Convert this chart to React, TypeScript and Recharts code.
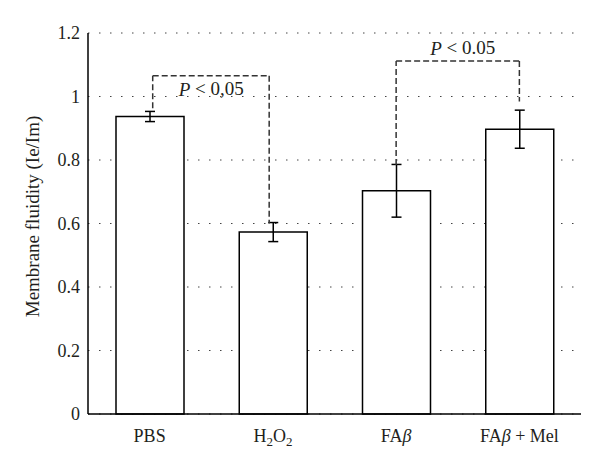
import React from 'react';
import { BarChart, Bar, XAxis, YAxis, CartesianGrid, ErrorBar, ReferenceLine, ReferenceDot } from 'recharts';

const categories = ['PBS', 'H2O2', 'FAβ', 'FAβ + Mel'];
const fluidity = [0.937, 0.573, 0.703, 0.897];
const errors = [0.016, 0.03, 0.083, 0.06];
const yTicks = [0, 0.2, 0.4, 0.6, 0.8, 1, 1.2];

// significance brackets, x in category-index units (band i spans i..i+1)
const brackets = [
  { x1: 0.525, x2: 1.47, top: 1.065, foot1: 0.963, foot2: 0.6, text: '< 0,05', lx: 1.0, ly: 1.024 },
  { x1: 2.5, x2: 3.5, top: 1.112, foot1: 0.784, foot2: 0.984, text: '< 0.05', lx: 3.04, ly: 1.153 },
];

const data = categories.map((name, i) => ({ name, pos: i + 0.5, value: fluidity[i], err: errors[i] }));

const FONT = '"Liberation Serif", "DejaVu Serif", serif';
const INK = '#231f20';
const dash = { stroke: '#333', strokeWidth: 1.5, strokeDasharray: '6 3' };

function CategoryTick({ x, y, payload }: any) {
  const v = payload.value as string;
  let content: React.ReactNode = v;
  if (v === 'H2O2') {
    content = (
      <>
        H<tspan dy={4} fontSize={13}>2</tspan>
        <tspan dy={-4}>O</tspan>
        <tspan dy={4} fontSize={13}>2</tspan>
      </>
    );
  } else if (v.startsWith('FAβ')) {
    content = (
      <>
        FA<tspan fontStyle="italic">β</tspan>
        {v.slice(3)}
      </>
    );
  }
  return (
    <text x={x} y={y + 20} textAnchor="middle" fontFamily={FONT} fontSize={18} fill={INK}>
      {content}
    </text>
  );
}

function PLabel(text: string) {
  return (p: any) => (
    <text x={p.cx} y={p.cy} textAnchor="middle" dominantBaseline="central" fontFamily={FONT} fontSize={19} fill={INK}>
      <tspan fontStyle="italic">P</tspan> {text}
    </text>
  );
}

export default function App() {
  return (
    <div style={{ position: 'absolute', left: 0, top: 0, background: '#fff' }}>
      <BarChart
        width={600}
        height={468}
        data={data}
        margin={{ top: 33, right: 19, bottom: 14, left: 0 }}
        barSize={68}
      >
        <CartesianGrid vertical={false} stroke="#444" strokeDasharray="1.5 9.5" />
        <XAxis
          dataKey="name"
          tick={<CategoryTick />}
          tickLine={false}
          axisLine={{ stroke: '#000', strokeWidth: 1.5 }}
          height={40}
          interval={0}
        />
        <XAxis xAxisId="num" dataKey="pos" type="number" domain={[0, 4]} allowDataOverflow hide />
        <YAxis
          domain={[0, 1.2]}
          ticks={yTicks}
          width={88}
          tickLine={false}
          tickSize={0}
          axisLine={{ stroke: '#000', strokeWidth: 1.5 }}
          tickMargin={8}
          tick={{ fontFamily: FONT, fontSize: 18, fill: INK }}
          label={({ viewBox }: any) => (
            <text
              transform={`translate(${viewBox.x + 32}, ${viewBox.y + viewBox.height / 2 - 7}) rotate(-90)`}
              textAnchor="middle"
              dominantBaseline="central"
              fontFamily={FONT}
              fontSize={19}
              fill={INK}
            >
              Membrane fluidity (Ie/Im)
            </text>
          )}
        />
        <Bar dataKey="value" fill="#fff" stroke="#000" strokeWidth={1.5} isAnimationActive={false}>
          <ErrorBar dataKey="err" width={5} stroke="#000" strokeWidth={1.5} />
        </Bar>
        {brackets.map((b, i) => [
          <ReferenceLine
            key={`l${i}`}
            xAxisId="num"
            ifOverflow="visible"
            segment={[{ x: b.x1, y: b.foot1 }, { x: b.x1, y: b.top }]}
            {...dash}
          />,
          <ReferenceLine
            key={`t${i}`}
            xAxisId="num"
            ifOverflow="visible"
            segment={[{ x: b.x1, y: b.top }, { x: b.x2, y: b.top }]}
            {...dash}
          />,
          <ReferenceLine
            key={`r${i}`}
            xAxisId="num"
            ifOverflow="visible"
            segment={[{ x: b.x2, y: b.top }, { x: b.x2, y: b.foot2 }]}
            {...dash}
          />,
          <ReferenceDot
            key={`p${i}`}
            xAxisId="num"
            x={b.lx}
            y={b.ly}
            r={0}
            ifOverflow="visible"
            shape={PLabel(b.text)}
          />,
        ])}
      </BarChart>
    </div>
  );
}
